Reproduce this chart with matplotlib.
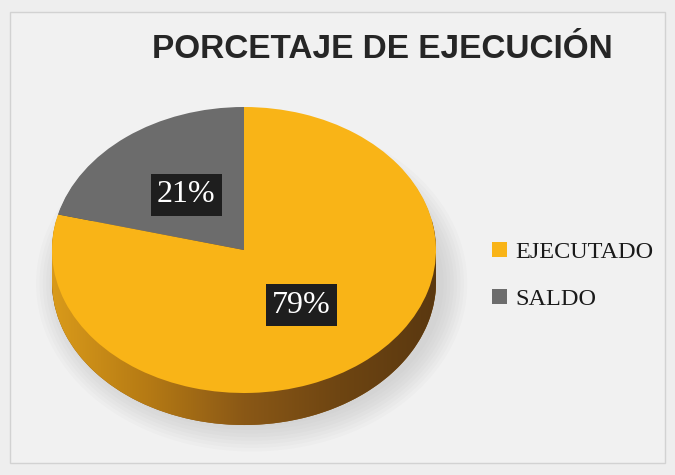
import matplotlib
matplotlib.use("Agg")
import matplotlib.pyplot as plt
import numpy as np
from matplotlib.colors import LinearSegmentedColormap
from matplotlib.patches import Polygon, Ellipse, Rectangle

categories = ["EJECUTADO", "SALDO"]
values = [79, 21]
top_colors = ["#F9B417", "#6C6C6C"]
side_colors = ["#8C5A16", "#454545"]
title = "PORCETAJE DE EJECUCIÓN"

W, H = 675, 475
fig = plt.figure(figsize=(W / 100, H / 100), dpi=100)
bg = "#eeeeee"
fig.patch.set_facecolor(bg)

# pie geometry (pixels)
cx, cy = 244, 250
rx, ry = 192, 143
depth = 32

ax = fig.add_axes([0, 0, 1, 1])
ax.set_facecolor(bg)
ax.set_aspect("auto")
ax.set_xlim(-cx / rx, (W - cx) / rx)
ax.set_ylim(-(H - cy) / ry, cy / ry)
ax.axis("off")

# frame
fig.patches.append(Rectangle((10 / W, 12 / H), (W - 20) / W, (H - 24) / H,
                             transform=fig.transFigure, facecolor="#f1f1f1",
                             edgecolor="#d2d2d2", linewidth=1.0, zorder=-5))

d = depth / ry

# soft shadow
for k in range(8):
    ax.add_patch(Ellipse((0.04, -d - 0.01), 2.0 + 0.035 * k, 2.0 + 0.05 * k,
                         facecolor="#9a9a9a", edgecolor="none", alpha=0.045, zorder=0.3))

# side (3D depth) layers
nlayers = 30
for i in range(nlayers, 0, -1):
    off = -d * i / nlayers
    ax.pie(values, colors=side_colors, startangle=90, counterclock=False,
           center=(0, off), radius=1, wedgeprops=dict(linewidth=0, zorder=0.6))

# gradient on the visible side band
t1 = np.linspace(0, np.pi, 200)
t2 = np.linspace(np.pi, 2 * np.pi, 200)
pts = np.vstack([np.column_stack([np.cos(t1), np.sin(t1)]),
                 np.column_stack([np.cos(t2), np.sin(t2) - d])])
clip = Polygon(pts, closed=True, transform=ax.transData, facecolor="none", edgecolor="none")
ax.add_patch(clip)
cmap = LinearSegmentedColormap.from_list(
    "side", ["#D99A1A", "#B57A14", "#8A5816", "#6E4512", "#5A3810"])
grad = np.linspace(0, 1, 256).reshape(1, -1)
im = ax.imshow(grad, cmap=cmap, extent=(-1, 1, -1 - d, 0.2), aspect="auto",
               zorder=0.8, interpolation="bilinear")
im.set_clip_path(clip)

wedges, texts, autotexts = ax.pie(
    values, colors=top_colors, startangle=90, counterclock=False,
    center=(0, 0), radius=1, autopct="%1.0f%%", pctdistance=0.49,
    wedgeprops=dict(linewidth=0, zorder=2),
    textprops=dict(color="white", fontsize=23, family="Liberation Serif"))
for t in autotexts:
    t.set_bbox(dict(boxstyle="square,pad=0.2", facecolor="#1e1e1e", edgecolor="none"))
    t.set_zorder(10)

ax.set_aspect("auto")
ax.set_xlim(-cx / rx, (W - cx) / rx)
ax.set_ylim(-(H - cy) / ry, cy / ry)
ax.axis("off")

fig.text(382 / W, 1 - 50 / H, title, ha="center", va="center",
         fontsize=24, fontweight="bold", family="Liberation Sans", color="#262626")

leg = fig.legend(wedges, categories, loc="center left",
                 bbox_to_anchor=(492 / W, 1 - 276 / H), frameon=False,
                 prop=dict(family="Liberation Serif", size=17.5),
                 handlelength=0.6, handleheight=0.6, handletextpad=0.35,
                 labelspacing=1.05, borderpad=0, borderaxespad=0)
for t in leg.get_texts():
    t.set_color("#1a1a1a")

fig.savefig("out.png", dpi=100, facecolor=fig.get_facecolor())
